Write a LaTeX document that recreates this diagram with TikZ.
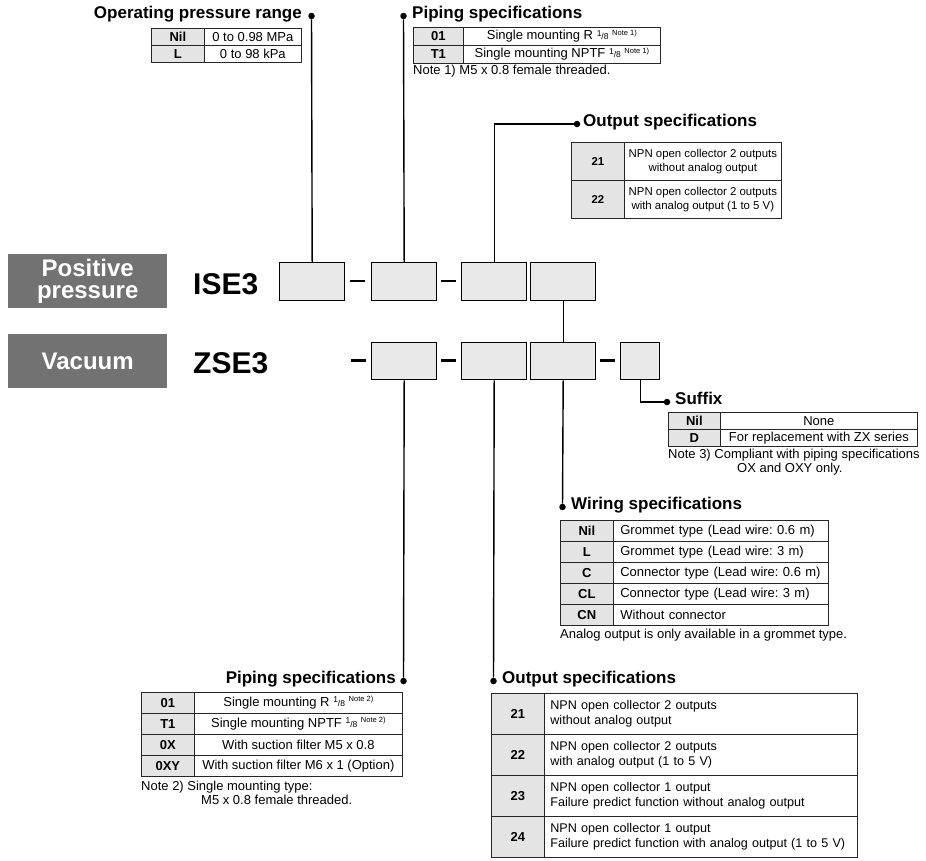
\documentclass[tikz,border=0pt]{standalone}
\usepackage{fontspec}
\setmainfont{Liberation Sans}
\definecolor{boxgray}{HTML}{E8E9E8}
\definecolor{codegray}{HTML}{E4E4E4}
\definecolor{labgray}{HTML}{727272}
\newcommand{\tabfnt}{\fontsize{13}{15.5}\selectfont}
\newcommand{\btabfnt}{\fontsize{12.6}{15.5}\selectfont}
\newcommand{\smtabfnt}{\fontsize{11.4}{14}\selectfont}
\newcommand{\ttlfnt}{\fontsize{17}{19}\selectfont\bfseries}
\newcommand{\myfrac}{{\fontsize{8.5}{8.5}\selectfont\raisebox{3.5pt}{1}/8}}
\newcommand{\mynote}[1]{\raisebox{4.5pt}{\fontsize{7.5}{8}\selectfont Note #1)}}
\frenchspacing
\begin{document}
\begin{tikzpicture}[x=1pt,y=-1pt,
  cell/.style={draw=black!85, line width=0.7pt, inner sep=0pt, anchor=north west, font=\tabfnt},
  code/.style={cell, fill=codegray, font=\tabfnt\bfseries},
  desc/.style={cell, fill=white, align=center},
  descl/.style={cell, fill=white, align=left, inner xsep=7pt},
  pbox/.style={draw, line width=1.4pt, fill=boxgray, anchor=north west, inner sep=0pt, minimum height=38pt},
  dashbar/.style={fill=black, inner sep=0pt, minimum width=15pt, minimum height=2.8pt},
  dot/.style={circle, fill=black, inner sep=0pt, minimum size=6.5pt},
  conn/.style={line width=1.4pt},
  ttl/.style={font=\ttlfnt, inner sep=0pt},
  nte/.style={font=\tabfnt, inner sep=0pt, anchor=mid west},
  lab/.style={fill=labgray, text=white, font=\fontsize{24}{24}\selectfont\bfseries, align=center, anchor=north west, inner sep=0pt, minimum width=159pt, minimum height=54pt},
  model/.style={font=\fontsize{30}{30}\selectfont\bfseries, anchor=base west, inner sep=0pt},
  bdesc/.style={cell, fill=white, align=left, inner xsep=6pt, text width=301pt, minimum height=41pt, font=\btabfnt}
]
\useasboundingbox (0,0) rectangle (926,860);

% left labels
\node[lab] (pos) at (8,254) {Positive\\[-2pt]pressure};
\node[lab] (vac) at (8,334) {Vacuum};
\node[model] (ise) at (193,294) {ISE3};
\node[model] (zse) at (193,373) {ZSE3};

% ISE3 row
\node[pbox, minimum width=65pt] (b1) at (279,262) {};
\node[dashbar] (d1) at (357,281) {};
\node[pbox, minimum width=65pt] (b2) at (371,262) {};
\node[dashbar] (d2) at (448.5,281) {};
\node[pbox, minimum width=65pt] (b3) at (461,262) {};
\node[pbox, minimum width=65pt] (b4) at (530,262) {};

% ZSE3 row
\node[dashbar] (e1) at (358,360.5) {};
\node[pbox, minimum width=65pt, minimum height=37pt] (zA) at (371,342) {};
\node[dashbar] (e2) at (448.5,360.5) {};
\node[pbox, minimum width=65pt, minimum height=37pt] (zB) at (461,342) {};
\node[pbox, minimum width=65pt, minimum height=37pt] (zC) at (530,342) {};
\node[dashbar] (e3) at (607.5,360.5) {};
\node[pbox, minimum width=39pt, minimum height=37pt] (zD) at (620,342) {};

% dots
\node[dot] (dOPR) at (311.5,16) {};
\node[dot] (dPipT) at (403.5,16) {};
\node[dot] (dOutT) at (577,124) {};
\node[dot] (dSuf) at (667,402) {};
\node[dot] (dWir) at (562.5,507) {};
\node[dot] (dPipB) at (403.5,681) {};
\node[dot] (dOutB) at (493.5,681) {};

% connectors
\draw[conn] (dOPR) -- (b1.north);
\draw[conn] (dPipT) -- (b2.north);
\draw[conn] (b3.north) |- (dOutT);
\draw[conn] (b4.south) -- (zC.north);
\draw[conn] (zD.south) |- (dSuf);
\draw[conn] (zC.south) -- (dWir);
\draw[conn] (zA.south) -- (dPipB);
\draw[conn] (zB.south) -- (dOutB);

% Operating pressure range
\node[ttl, anchor=mid east] (tOPR) at (302,16) {Operating pressure range};
\node[code, minimum width=53pt, minimum height=17pt] (o1c) at (151,28) {Nil};
\node[desc, minimum width=97pt, minimum height=17pt] (o1d) at (204,28) {0 to 0.98 MPa};
\node[code, minimum width=53pt, minimum height=17pt] (o2c) at (151,45) {L};
\node[desc, minimum width=97pt, minimum height=17pt] (o2d) at (204,45) {0 to 98 kPa};

% Piping top
\node[ttl, anchor=mid west] (tPipT) at (412,16) {Piping specifications};
\node[code, minimum width=50pt, minimum height=18pt] (p1c) at (413,27) {01};
\node[desc, minimum width=197pt, minimum height=18pt] (p1d) at (463,27) {Single mounting R \myfrac\ \mynote{1}};
\node[code, minimum width=50pt, minimum height=18pt] (p2c) at (413,45) {T1};
\node[desc, minimum width=197pt, minimum height=18pt] (p2d) at (463,45) {Single mounting NPTF \myfrac\ \mynote{1}};
\node[nte] (n1) at (413,72) {Note 1) M5 x 0.8 female threaded.};

% Output top
\node[ttl, anchor=mid west] (tOutT) at (583,124) {Output specifications};
\node[code, minimum width=53pt, minimum height=38pt, font=\smtabfnt\bfseries] (q1c) at (571,142) {21};
\node[desc, minimum width=157pt, minimum height=38pt, font=\smtabfnt] (q1d) at (624,142) {NPN open collector 2 outputs\\without analog output};
\node[code, minimum width=53pt, minimum height=38pt, font=\smtabfnt\bfseries] (q2c) at (571,180) {22};
\node[desc, minimum width=157pt, minimum height=38pt, font=\smtabfnt] (q2d) at (624,180) {NPN open collector 2 outputs\\with analog output (1 to 5 V)};

% Suffix
\node[ttl, anchor=mid west] (tSuf) at (675,402) {Suffix};
\node[code, minimum width=52pt, minimum height=17pt] (s1c) at (668,412) {Nil};
\node[desc, minimum width=197pt, minimum height=17pt] (s1d) at (720,412) {None};
\node[code, minimum width=52pt, minimum height=17pt] (s2c) at (668,429) {D};
\node[desc, minimum width=197pt, minimum height=17pt] (s2d) at (720,429) {For replacement with ZX series};
\node[nte] (n3a) at (668,456) {Note 3) Compliant with piping specifications};
\node[nte] (n3b) at (737,470) {OX and OXY only.};

% Wiring
\node[ttl, anchor=mid west] (tWir) at (571,507) {Wiring specifications};
\node[code, minimum width=53pt, minimum height=21pt] (w1c) at (560,520) {Nil};
\node[descl, text width=201pt, minimum height=21pt] (w1d) at (613,520) {Grommet type (Lead wire: 0.6 m)};
\node[code, minimum width=53pt, minimum height=21pt] (w2c) at (560,541) {L};
\node[descl, text width=201pt, minimum height=21pt] (w2d) at (613,541) {Grommet type (Lead wire: 3 m)};
\node[code, minimum width=53pt, minimum height=21pt] (w3c) at (560,562) {C};
\node[descl, text width=201pt, minimum height=21pt] (w3d) at (613,562) {Connector type (Lead wire: 0.6 m)};
\node[code, minimum width=53pt, minimum height=21pt] (w4c) at (560,583) {CL};
\node[descl, text width=201pt, minimum height=21pt] (w4d) at (613,583) {Connector type (Lead wire: 3 m)};
\node[code, minimum width=53pt, minimum height=21pt] (w5c) at (560,604) {CN};
\node[descl, text width=201pt, minimum height=21pt] (w5d) at (613,604) {Without connector};
\node[nte] (nw) at (560,636) {Analog output is only available in a grommet type.};

% Piping bottom
\node[ttl, anchor=mid east] (tPipB) at (396,681) {Piping specifications};
\node[code, minimum width=53pt, minimum height=21pt] (r1c) at (141,692) {01};
\node[desc, minimum width=208pt, minimum height=21pt] (r1d) at (194,692) {Single mounting R \myfrac\ \mynote{2}};
\node[code, minimum width=53pt, minimum height=21pt] (r2c) at (141,713) {T1};
\node[desc, minimum width=208pt, minimum height=21pt] (r2d) at (194,713) {Single mounting NPTF \myfrac\ \mynote{2}};
\node[code, minimum width=53pt, minimum height=21pt] (r3c) at (141,734) {0X};
\node[desc, minimum width=208pt, minimum height=21pt] (r3d) at (194,734) {With suction filter M5 x 0.8};
\node[code, minimum width=53pt, minimum height=21pt] (r4c) at (141,755) {0XY};
\node[desc, minimum width=208pt, minimum height=21pt] (r4d) at (194,755) {With suction filter M6 x 1 (Option)};
\node[nte] (n2a) at (141,788) {Note 2) Single mounting type:};
\node[nte] (n2b) at (201,802) {M5 x 0.8 female threaded.};

% Output bottom
\node[ttl, anchor=mid west] (tOutB) at (502,681) {Output specifications};
\node[code, minimum width=53pt, minimum height=41pt] (u1c) at (491,693) {21};
\node[bdesc] (u1d) at (544,693) {\mbox{NPN open collector 2 outputs}\\\mbox{without analog output}};
\node[code, minimum width=53pt, minimum height=41pt] (u2c) at (491,734) {22};
\node[bdesc] (u2d) at (544,734) {\mbox{NPN open collector 2 outputs}\\\mbox{with analog output (1 to 5 V)}};
\node[code, minimum width=53pt, minimum height=41pt] (u3c) at (491,775) {23};
\node[bdesc] (u3d) at (544,775) {\mbox{NPN open collector 1 output}\\\mbox{Failure predict function without analog output}};
\node[code, minimum width=53pt, minimum height=41pt] (u4c) at (491,816) {24};
\node[bdesc] (u4d) at (544,816) {\mbox{NPN open collector 1 output}\\\mbox{Failure predict function with analog output (1 to 5 V)}};
\end{tikzpicture}
\end{document}
